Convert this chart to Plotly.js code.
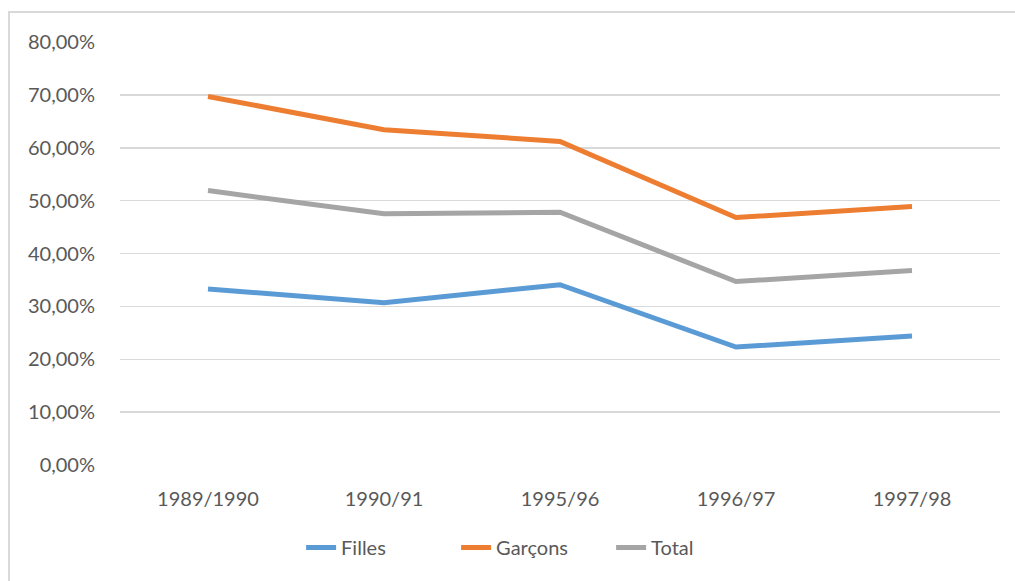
<!DOCTYPE html>
<html>
<head>
<meta charset="utf-8">
<script src="https://cdn.plot.ly/plotly-3.0.1.min.js"></script>
<style>
html,body{margin:0;padding:0;background:#fff;overflow:hidden;}
#frame{position:absolute;left:8px;top:11px;width:1100px;height:700px;border:2px solid #d9d9d9;box-sizing:border-box;pointer-events:none;}
#chart{position:absolute;left:0;top:0;width:1015px;height:581px;}
</style>
</head>
<body>
<div id="chart"></div>
<div id="frame"></div>
<script>
const categories = ["1989/1990", "1990/91", "1995/96", "1996/97", "1997/98"];
const filles  = [0.333, 0.307, 0.341, 0.223, 0.244];
const garcons = [0.697, 0.634, 0.612, 0.468, 0.489];
const total   = [0.519, 0.475, 0.478, 0.347, 0.368];
const yTicks  = [0, 0.1, 0.2, 0.3, 0.4, 0.5, 0.6, 0.7, 0.8];

const font = {family: "Lato, 'Open Sans', sans-serif", size: 20, color: "#595959"};
function tr(name, y, color){
  return {type:"scatter", mode:"lines", name:name, x:categories, y:y,
          line:{color:color, width:5}, hoverinfo:"skip"};
}
const data = [
  tr("Filles", filles, "#5b9bd5"),
  tr("Garçons", garcons, "#ed7d31"),
  tr("Total", total, "#a5a5a5")
];
const layout = {
  width:1015, height:581,
  margin:{l:120, r:15, t:42, b:116},
  paper_bgcolor:"#fff", plot_bgcolor:"#fff",
  font:font,
  separators:",.",
  showlegend:true,
  legend:{orientation:"h", x:0.47, xanchor:"center", y:-0.195, yanchor:"middle",
          font:font, tracegroupgap:0, entrywidth:110, entrywidthmode:"pixels"},
  xaxis:{type:"category", range:[-0.5,4.5], showgrid:false, zeroline:false, showline:false,
         ticks:"outside", ticklen:16, tickcolor:"rgba(0,0,0,0)", tickfont:font},
  yaxis:{range:[0,0.8], tickvals:yTicks, tickformat:".2%",
         showgrid:true, gridcolor:"#d9d9d9", gridwidth:1.5, zeroline:false,
         showline:false, ticks:"outside", ticklen:20, tickcolor:"rgba(0,0,0,0)", tickfont:font}
};
Plotly.newPlot("chart", data, layout, {displayModeBar:false, staticPlot:true});
</script>
</body>
</html>
